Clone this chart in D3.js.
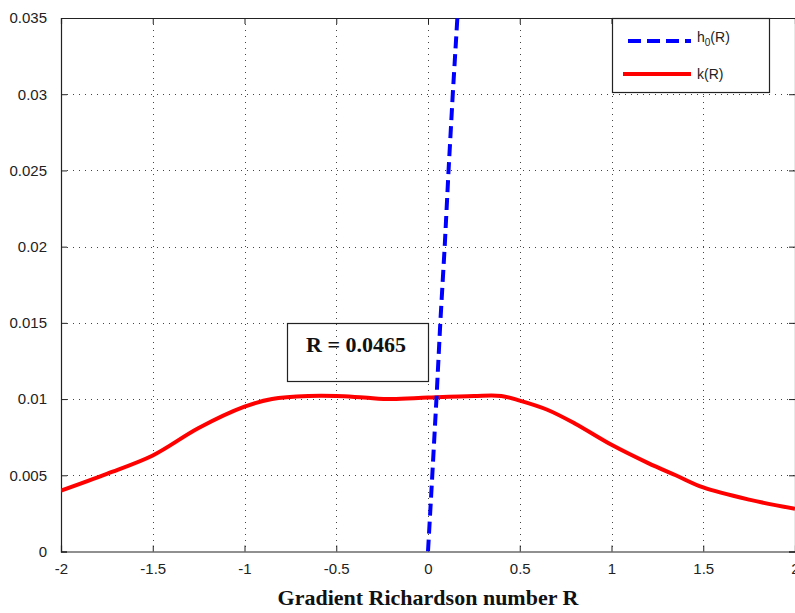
<!DOCTYPE html>
<html>
<head>
<meta charset="utf-8">
<script src="https://cdn.jsdelivr.net/npm/d3@7/dist/d3.min.js"></script>
<style>
  html, body { margin: 0; padding: 0; background: #fff; }
  svg { display: block; }
</style>
</head>
<body>
<script>
// Gradient Richardson number R (x) against h0(R) and k(R)
const xTicks = [-2, -1.5, -1, -0.5, 0, 0.5, 1, 1.5, 2];
const yTicks = [0, 0.005, 0.01, 0.015, 0.02, 0.025, 0.03, 0.035];
const xTickLabels = ["-2", "-1.5", "-1", "-0.5", "0", "0.5", "1", "1.5", "2"];
const yTickLabels = ["0", "0.005", "0.01", "0.015", "0.02", "0.025", "0.03", "0.035"];

// h0(R): steep, nearly linear rise through the crossing point
const hR   = [0, 0.022, 0.0465, 0.067, 0.091, 0.112, 0.135, 0.16];
const hVal = [0, 0.0047, 0.0101, 0.015, 0.020, 0.025, 0.030, 0.035];

// k(R): broad plateau around 0.01
const kR   = [-2, -1.75, -1.5, -1.25, -1, -0.85, -0.65, -0.5, -0.35, -0.2, 0, 0.25, 0.4, 0.5, 0.65, 0.8, 1, 1.2, 1.35, 1.5, 1.75, 2];
const kVal = [0.0040, 0.0051, 0.0063, 0.0081, 0.0095, 0.0100, 0.0102, 0.0102, 0.0101, 0.0100, 0.0101, 0.0102, 0.0102, 0.0099, 0.0093, 0.0084, 0.0070, 0.0058, 0.0050, 0.0042, 0.0034, 0.0028];

const seriesNames = ["h", "k"];
const crossingR = 0.0465;
const xTitle = "Gradient Richardson number R";

const W = 795, H = 613;
const padL = 61, padR = 795, padT = 18, padB = 551.5;

const svg = d3.select("body").append("svg").attr("width", W).attr("height", H);

const x = d3.scaleLinear().domain([-2, 2]).range([padL, padR]);
const y = d3.scaleLinear().domain([0, 0.035]).range([padB, padT]);

const tickFont = "'Liberation Sans', Arial, sans-serif";

// grid
const grid = svg.append("g").attr("stroke", "#444").attr("stroke-width", 1).attr("stroke-dasharray", "1,5");
grid.selectAll(".gx").data(xTicks.slice(1, -1)).enter().append("line")
  .attr("x1", d => Math.round(x(d)) + 0.5).attr("x2", d => Math.round(x(d)) + 0.5)
  .attr("y1", padT).attr("y2", padB);
grid.selectAll(".gy").data(yTicks.slice(1, -1)).enter().append("line")
  .attr("y1", d => Math.round(y(d)) + 0.5).attr("y2", d => Math.round(y(d)) + 0.5)
  .attr("x1", padL).attr("x2", padR);

// axes with inward ticks on all four sides
const xAxisB = d3.axisBottom(x).tickValues(xTicks).tickSize(-6).tickFormat((d, i) => xTickLabels[i]).tickPadding(12);
const xAxisT = d3.axisTop(x).tickValues(xTicks).tickSize(-6).tickFormat("");
const yAxisL = d3.axisLeft(y).tickValues(yTicks).tickSize(-6).tickFormat((d, i) => yTickLabels[i]).tickPadding(14);
const yAxisR = d3.axisRight(y).tickValues(yTicks).tickSize(-6).tickFormat("");

function styleAxis(g) {
  g.select(".domain").attr("stroke", "#222").attr("stroke-width", 1.2);
  g.selectAll(".tick line").attr("stroke", "#222");
  g.selectAll("text").attr("font-family", tickFont).attr("font-size", 15).attr("fill", "#222");
}

svg.append("g").attr("transform", `translate(0,${padB})`).call(xAxisB).call(styleAxis);
svg.append("g").attr("transform", `translate(0,${padT})`).call(xAxisT).call(styleAxis);
svg.append("g").attr("transform", `translate(${padL},0)`).call(yAxisL).call(styleAxis);
svg.append("g").attr("transform", `translate(${padR},0)`).call(yAxisR).call(styleAxis);

// clip to plot area
svg.append("clipPath").attr("id", "plotclip").append("rect")
  .attr("x", padL).attr("y", padT).attr("width", padR - padL).attr("height", padB - padT);

const plot = svg.append("g").attr("clip-path", "url(#plotclip)");

const kData = kR.map((r, i) => [r, kVal[i]]);
const hData = hR.map((r, i) => [r, hVal[i]]);

plot.append("path").datum(kData)
  .attr("fill", "none").attr("stroke", "#ff0000").attr("stroke-width", 4)
  .attr("d", d3.line().x(d => x(d[0])).y(d => y(d[1])).curve(d3.curveCatmullRom.alpha(0.5)));

plot.append("path").datum(hData)
  .attr("fill", "none").attr("stroke", "#0000ff").attr("stroke-width", 4)
  .attr("stroke-dasharray", "12,6")
  .attr("d", d3.line().x(d => x(d[0])).y(d => y(d[1])));

// annotation box for the crossing point
svg.append("rect").attr("x", 287.5).attr("y", 323.5).attr("width", 141).attr("height", 58)
  .attr("fill", "none").attr("stroke", "#222").attr("stroke-width", 1.2);
svg.append("text").attr("x", 356).attr("y", 352)
  .attr("text-anchor", "middle")
  .attr("font-family", "'Liberation Serif', 'Times New Roman', serif")
  .attr("font-weight", "bold").attr("font-size", 22).attr("fill", "#111")
  .text("R = " + crossingR);

// legend
const lg = svg.append("g");
lg.append("rect").attr("x", 612.5).attr("y", 18.5).attr("width", 157).attr("height", 74)
  .attr("fill", "#fff").attr("stroke", "#222").attr("stroke-width", 1.2);
lg.append("line").attr("x1", 628).attr("x2", 691).attr("y1", 41).attr("y2", 41)
  .attr("stroke", "#0000ff").attr("stroke-width", 4).attr("stroke-dasharray", "13,6");
lg.append("line").attr("x1", 623).attr("x2", 691).attr("y1", 74).attr("y2", 74)
  .attr("stroke", "#ff0000").attr("stroke-width", 4);
const ht = lg.append("text").attr("x", 697).attr("y", 42)
  .attr("font-family", tickFont).attr("font-size", 14).attr("fill", "#222");
ht.append("tspan").text(seriesNames[0]);
ht.append("tspan").attr("font-size", 10).attr("dy", 4).text("0");
ht.append("tspan").attr("dy", -4).text("(R)");
lg.append("text").attr("x", 697).attr("y", 79)
  .attr("font-family", tickFont).attr("font-size", 14).attr("fill", "#222")
  .text(seriesNames[1] + "(R)");

// x-axis title
svg.append("text").attr("x", 428).attr("y", 605)
  .attr("text-anchor", "middle")
  .attr("font-family", "'Liberation Serif', 'Times New Roman', serif")
  .attr("font-weight", "bold").attr("font-size", 22).attr("fill", "#111")
  .text(xTitle);
</script>
</body>
</html>
